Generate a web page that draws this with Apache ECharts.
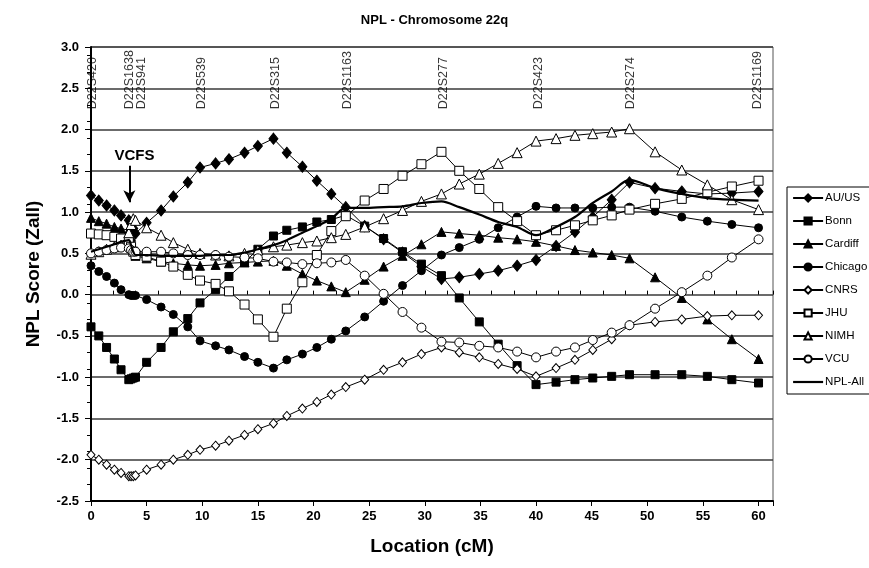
<!DOCTYPE html>
<html>
<head>
<meta charset="utf-8">
<script src="https://cdn.jsdelivr.net/npm/echarts@6/dist/echarts.min.js"></script>
<style>
  html, body { margin: 0; padding: 0; background: #fff; }
  #chart { width: 869px; height: 568px; }
</style>
</head>
<body>
<div id="chart"></div>
<script>
// analysis positions (cM), shared by all centres
const positions = [0, 0.7, 1.4, 2.1, 2.7, 3.4, 3.6, 3.8, 4.0, 5.0, 6.3, 7.4, 8.7, 9.8, 11.2, 12.4, 13.8, 15.0,
  16.4, 17.6, 19.0, 20.3, 21.6, 22.9, 24.6, 26.3, 28.0, 29.7, 31.5, 33.1, 34.9, 36.6, 38.3, 40.0,
  41.8, 43.5, 45.1, 46.8, 48.4, 50.7, 53.1, 55.4, 57.6, 60.0]

const auUs = [1.20, 1.14, 1.08, 1.02, 0.96, 0.90, 0.86, 0.80, 0.74, 0.87, 1.02, 1.19, 1.36, 1.54, 1.59, 1.64, 1.72, 1.80,
  1.89, 1.72, 1.55, 1.38, 1.22, 1.06, 0.83, 0.67, 0.51, 0.34, 0.19, 0.21, 0.25, 0.29, 0.35, 0.42,
  0.59, 0.76, 0.94, 1.15, 1.36, 1.29, 1.25, 1.22, 1.23, 1.25]
const bonn = [-0.39, -0.50, -0.64, -0.78, -0.91, -1.03, -1.02, -1.01, -1.00, -0.82, -0.64, -0.45, -0.29, -0.10, 0.06, 0.22, 0.39, 0.55,
  0.71, 0.78, 0.82, 0.88, 0.91, 0.96, 0.83, 0.68, 0.52, 0.37, 0.23, -0.04, -0.33, -0.60, -0.86, -1.09,
  -1.06, -1.03, -1.01, -0.99, -0.97, -0.97, -0.97, -0.99, -1.03, -1.07]
const cardiff = [0.93, 0.89, 0.86, 0.82, 0.80, 0.78, 0.70, 0.55, 0.47, 0.44, 0.40, 0.38, 0.36, 0.35, 0.36, 0.38, 0.39, 0.40,
  0.41, 0.35, 0.25, 0.17, 0.10, 0.03, 0.18, 0.34, 0.47, 0.61, 0.76, 0.74, 0.72, 0.69, 0.67, 0.64,
  0.59, 0.54, 0.51, 0.48, 0.44, 0.21, -0.04, -0.30, -0.54, -0.78]
const chicago = [0.35, 0.28, 0.22, 0.14, 0.06, 0.00, -0.01, -0.01, -0.01, -0.06, -0.15, -0.24, -0.39, -0.56, -0.62, -0.67, -0.75, -0.82,
  -0.89, -0.79, -0.72, -0.64, -0.54, -0.44, -0.27, -0.08, 0.11, 0.29, 0.48, 0.57, 0.67, 0.81, 0.94, 1.07,
  1.05, 1.05, 1.05, 1.06, 1.06, 1.01, 0.94, 0.89, 0.85, 0.81]
const cnrs = [-1.94, -2.00, -2.06, -2.12, -2.16, -2.20, -2.20, -2.20, -2.19, -2.12, -2.06, -2.00, -1.94, -1.88, -1.83, -1.77, -1.70, -1.63,
  -1.56, -1.47, -1.38, -1.30, -1.21, -1.12, -1.03, -0.91, -0.82, -0.72, -0.64, -0.70, -0.76, -0.84, -0.90, -0.99,
  -0.89, -0.79, -0.67, -0.54, -0.37, -0.33, -0.30, -0.26, -0.25, -0.25]
const jhu = [0.74, 0.73, 0.72, 0.70, 0.68, 0.64, 0.58, 0.52, 0.48, 0.46, 0.40, 0.34, 0.24, 0.17, 0.13, 0.04, -0.12, -0.30,
  -0.51, -0.17, 0.15, 0.48, 0.77, 0.95, 1.14, 1.28, 1.44, 1.58, 1.73, 1.50, 1.28, 1.06, 0.89, 0.72,
  0.78, 0.84, 0.90, 0.96, 1.03, 1.10, 1.16, 1.24, 1.31, 1.38]
const nimh = [0.49, 0.52, 0.55, 0.58, 0.60, 0.75, 0.85, 0.92, 0.90, 0.81, 0.72, 0.63, 0.55, 0.50, 0.48, 0.47, 0.50, 0.54,
  0.58, 0.60, 0.63, 0.65, 0.69, 0.73, 0.82, 0.92, 1.02, 1.13, 1.22, 1.34, 1.46, 1.59, 1.72, 1.86,
  1.89, 1.93, 1.95, 1.97, 2.01, 1.73, 1.51, 1.33, 1.15, 1.03]
const vcu = [0.50, 0.52, 0.54, 0.56, 0.57, 0.56, 0.54, 0.52, 0.52, 0.52, 0.52, 0.50, 0.48, 0.48, 0.48, 0.46, 0.45, 0.44,
  0.40, 0.39, 0.37, 0.38, 0.39, 0.42, 0.23, 0.01, -0.21, -0.40, -0.57, -0.58, -0.62, -0.64, -0.69, -0.76,
  -0.69, -0.64, -0.55, -0.46, -0.37, -0.17, 0.03, 0.23, 0.45, 0.67]
const nplAll = [0.52, 0.55, 0.58, 0.61, 0.64, 0.66, 0.60, 0.52, 0.48, 0.48, 0.47, 0.47, 0.47, 0.47, 0.48, 0.48, 0.51, 0.55,
  0.60, 0.66, 0.75, 0.83, 0.92, 1.05, 1.05, 1.06, 1.07, 1.11, 1.13, 1.06, 0.97, 0.88, 0.82, 0.72,
  0.82, 0.94, 1.11, 1.25, 1.39, 1.29, 1.22, 1.17, 1.15, 1.14]

// microsatellite markers along the top
const markerNames = ['D22S420', 'D22S1638', 'D22S941', 'D22S539', 'D22S315', 'D22S1163', 'D22S277', 'D22S423', 'D22S274', 'D22S1169']
const markerPos = [0.1, 3.45, 4.5, 9.9, 16.6, 23.1, 31.65, 40.2, 48.5, 59.9]

const FONT = 'Liberation Sans, Arial, sans-serif'

function pts(vals) {
  return positions.map((x, i) => [x, vals[i]])
}

function centre(name, vals, symbol, size, filled) {
  return {
    name: name,
    type: 'line',
    data: pts(vals),
    symbol: symbol,
    symbolSize: size,
    showAllSymbol: true,
    lineStyle: { color: '#000', width: 1 },
    itemStyle: { color: filled ? '#000' : '#fff', borderColor: '#000', borderWidth: 1 },
    z: 3
  }
}

const chart = echarts.init(document.getElementById('chart'))
chart.setOption({
  animation: false,
  backgroundColor: '#fff',
  title: {
    text: 'NPL - Chromosome 22q',
    left: 'center',
    top: 9,
    textStyle: { fontFamily: FONT, fontSize: 13, fontWeight: 'bold', color: '#000' }
  },
  legend: {
    orient: 'vertical',
    left: 787,
    top: 187,
    padding: [5, 40, 6, 5],
    itemWidth: 30,
    itemHeight: 9,
    itemGap: 11,
    borderColor: '#000',
    borderWidth: 1,
    textStyle: { fontFamily: FONT, fontSize: 11.5, color: '#000', padding: [0, 0, 0, -3] },
    data: ['AU/US', 'Bonn', 'Cardiff', 'Chicago', 'CNRS', 'JHU', 'NIMH', 'VCU',
      { name: 'NPL-All', itemStyle: { opacity: 0 }, lineStyle: { width: 2.2, color: '#000' } }]
  },
  grid: [
    { left: 91, top: 47, width: 682, height: 454, show: true, borderColor: '#555', borderWidth: 1 },
    { left: 91, top: 47, width: 682, height: 454 }
  ],
  xAxis: [
    {
      type: 'value', gridIndex: 0, min: 0, max: 61.3, interval: 5,
      name: 'Location (cM)', nameLocation: 'middle', nameGap: 36,
      nameTextStyle: { fontFamily: FONT, fontSize: 19, fontWeight: 'bold', color: '#000' },
      axisLine: { onZero: false, lineStyle: { color: '#000', width: 2 } },
      axisTick: { show: true, length: 5, lineStyle: { color: '#000' } },
      axisLabel: {
        margin: 9, fontFamily: FONT, fontSize: 13, fontWeight: 'bold', color: '#000',
        formatter: v => (v % 5 === 0 ? String(v) : '')
      },
      splitLine: { show: false }
    },
    {
      type: 'value', gridIndex: 1, min: 0, max: 61.3, interval: 2,
      axisLine: { show: false },
      axisTick: { show: true, inside: true, length: 4, lineStyle: { color: '#000' } },
      axisLabel: { show: false },
      splitLine: { show: false }
    }
  ],
  yAxis: [
    {
      type: 'value', gridIndex: 0, min: -2.5, max: 3, interval: 0.5,
      name: 'NPL Score (Zall)', nameLocation: 'middle', nameGap: 48,
      nameTextStyle: { fontFamily: FONT, fontSize: 19, fontWeight: 'bold', color: '#000' },
      axisLine: { show: true, onZero: false, lineStyle: { color: '#000', width: 2 } },
      axisTick: { show: true, length: 6, lineStyle: { color: '#000' } },
      axisLabel: {
        margin: 12, fontFamily: FONT, fontSize: 13, fontWeight: 'bold', color: '#000',
        formatter: v => v.toFixed(1)
      },
      splitLine: { show: true, lineStyle: { color: '#3a3a3a', width: 1.6 } }
    },
    {
      type: 'value', gridIndex: 1, min: -2.5, max: 3, interval: 0.2,
      axisLine: { show: false },
      axisTick: { show: true, length: 4, lineStyle: { color: '#000' } },
      axisLabel: { show: false },
      splitLine: { show: false }
    }
  ],
  series: [
    centre('AU/US', auUs, 'diamond', [9, 11], true),
    centre('Bonn', bonn, 'rect', 8, true),
    centre('Cardiff', cardiff, 'triangle', 9, true),
    centre('Chicago', chicago, 'circle', 8, true),
    centre('CNRS', cnrs, 'diamond', [8, 9], false),
    centre('JHU', jhu, 'rect', 9, false),
    centre('NIMH', nimh, 'triangle', 10, false),
    centre('VCU', vcu, 'circle', 9, false),
    {
      name: 'NPL-All',
      type: 'line',
      data: pts(nplAll),
      symbol: 'none',
      smooth: 0.3,
      lineStyle: { color: '#000', width: 2.2 },
      itemStyle: { color: '#000' },
      z: 4
    },
    {
      name: 'markers',
      type: 'scatter',
      data: markerPos.map(x => [x, 2.24]),
      symbolSize: 1,
      itemStyle: { color: 'rgba(0,0,0,0)' },
      label: {
        show: true,
        position: 'top',
        distance: 0,
        rotate: 90,
        align: 'left',
        verticalAlign: 'middle',
        fontFamily: FONT,
        fontSize: 12.5,
        color: '#000',
        formatter: p => markerNames[p.dataIndex]
      },
      z: 2
    },
    {
      name: 'vcfs',
      type: 'line',
      data: [],
      markLine: {
        silent: true,
        symbol: ['none', 'arrow'],
        symbolSize: [9, 12],
        lineStyle: { color: '#000', width: 2, type: 'solid' },
        label: {
          show: true, position: 'start', distance: 3, offset: [5, 0],
          formatter: 'VCFS', fontFamily: FONT, fontSize: 15, fontWeight: 'bold', color: '#000'
        },
        data: [[{ coord: [3.45, 1.56] }, { coord: [3.45, 1.12] }]]
      }
    }
  ]
})
</script>
</body>
</html>
